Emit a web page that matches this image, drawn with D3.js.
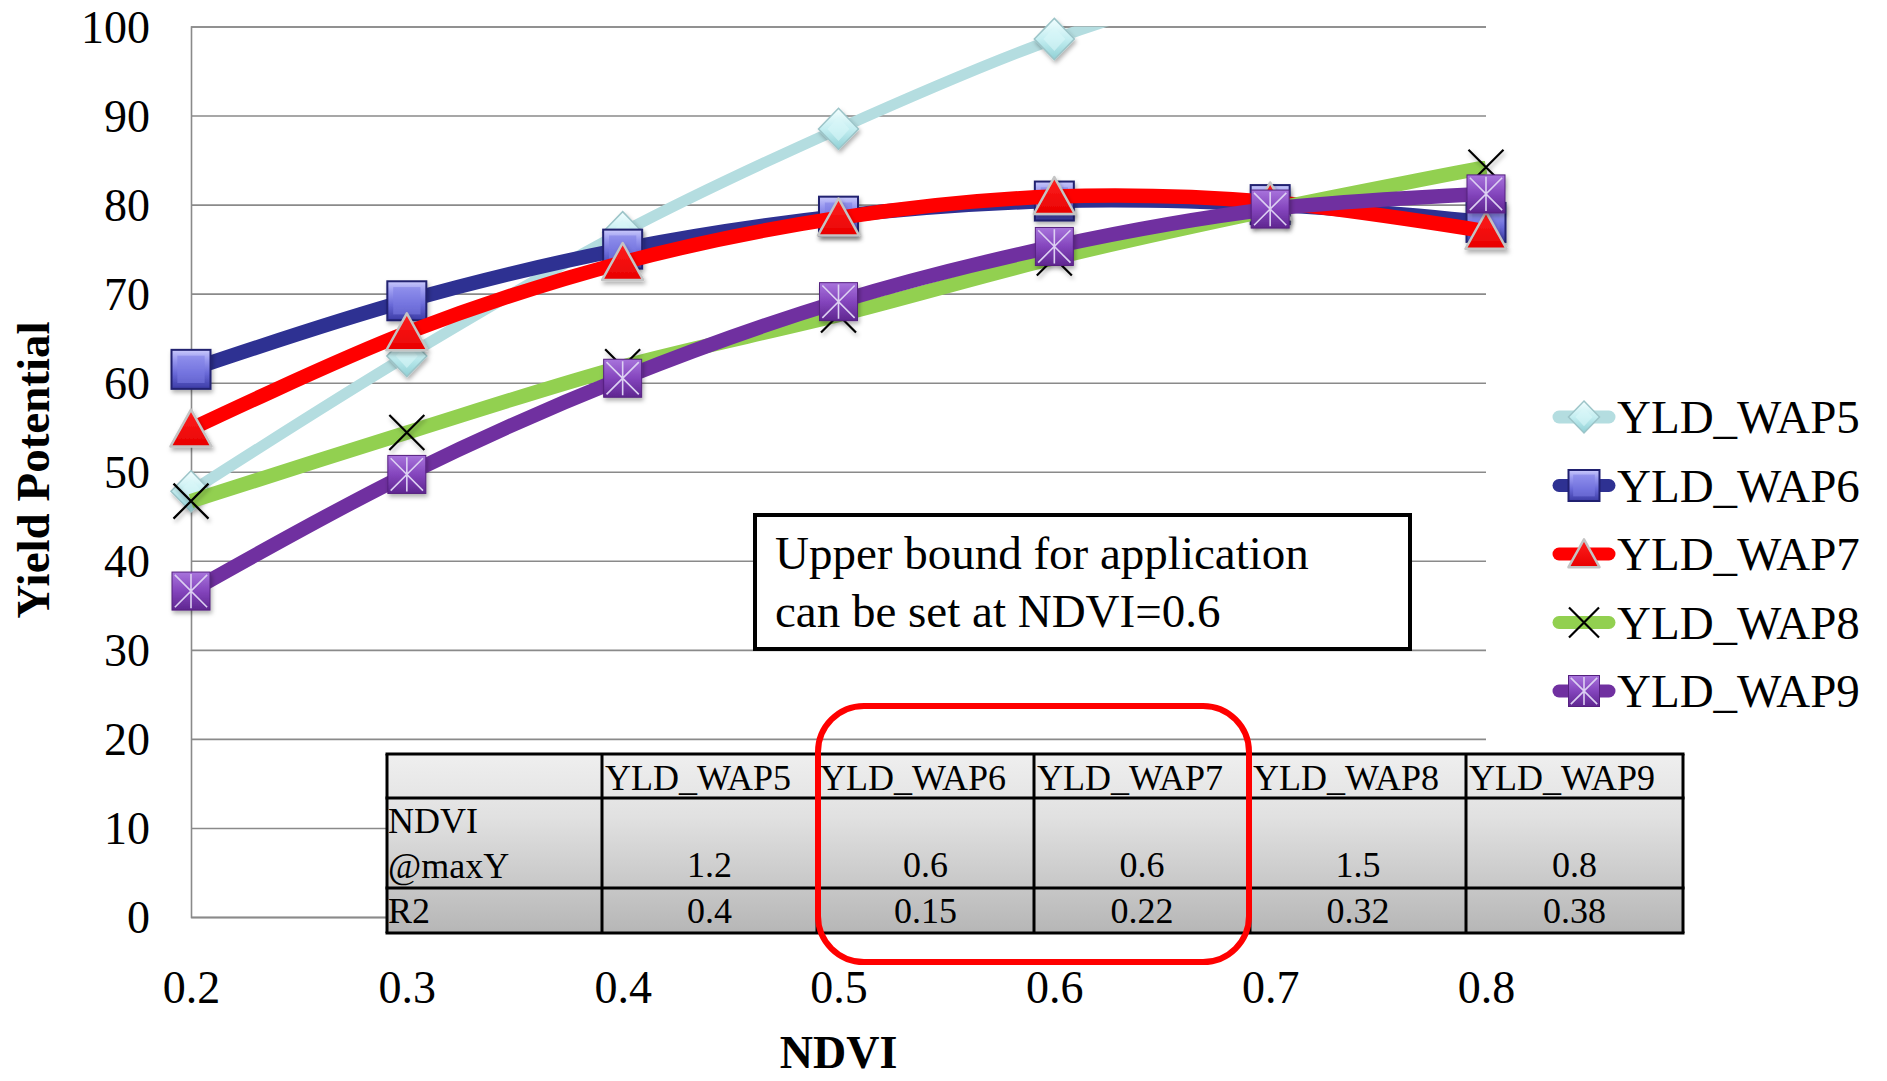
<!DOCTYPE html>
<html>
<head>
<meta charset="utf-8">
<script src="https://cdn.jsdelivr.net/npm/d3@7"></script>
<style>
  html, body { margin: 0; padding: 0; background: #fff; }
  svg { display: block; }
  svg text { font-family: "Liberation Serif", "Times New Roman", serif; fill: #000; }
</style>
</head>
<body>
<svg id="chart" width="1887" height="1081"></svg>
<script>
// NDVI categories on the x axis
const ndvi = [0.2, 0.3, 0.4, 0.5, 0.6, 0.7, 0.8];
const yTicks = [0, 10, 20, 30, 40, 50, 60, 70, 80, 90, 100];

// Yield potential for each WAP series
const seriesNames = ["YLD_WAP5", "YLD_WAP6", "YLD_WAP7", "YLD_WAP8", "YLD_WAP9"];
const yldWap5 = [47.8, 63.0, 76.9, 88.5, 98.6, 106.0, 112.0];
const yldWap6 = [61.5, 69.2, 75.0, 78.7, 80.4, 80.0, 78.0];
const yldWap7 = [54.8, 65.6, 73.5, 78.5, 80.9, 80.3, 77.0];
const yldWap8 = [46.7, 54.4, 61.8, 67.6, 74.0, 79.4, 84.2];
const yldWap9 = [36.6, 49.7, 60.5, 69.1, 75.3, 79.5, 81.2];

// Summary table
const tableRowLabels = ["NDVI\n@maxY", "R2"];
const ndviAtMaxY = ["1.2", "0.6", "0.6", "1.5", "0.8"];
const r2Values = ["0.4", "0.15", "0.22", "0.32", "0.38"];

const noteLines = ["Upper bound for application", "can be set at NDVI=0.6"];

const series = [
  { name: seriesNames[0], values: yldWap5, color: "#b4dde0", width: 11, marker: "diamond" },
  { name: seriesNames[1], values: yldWap6, color: "#2e3192", width: 14.5, marker: "square" },
  { name: seriesNames[2], values: yldWap7, color: "#ff0000", width: 14.5, marker: "triangle" },
  { name: seriesNames[3], values: yldWap8, color: "#92d050", width: 14.5, marker: "x" },
  { name: seriesNames[4], values: yldWap9, color: "#7030a0", width: 14.5, marker: "star" }
];

const serif = "'Liberation Serif', 'Times New Roman', serif";
const svg = d3.select("#chart");
const W = 1887, H = 1081;
svg.append("rect").attr("width", W).attr("height", H).attr("fill", "#fff");

const plot = { left: 191, right: 1486, top: 26.5, bottom: 917 };
const x = d3.scaleLinear().domain([0.2, 0.8]).range([plot.left, plot.right]);
const y = d3.scaleLinear().domain([0, 100]).range([plot.bottom, plot.top]);

// ---------- defs: gradients, shadow, clip ----------
const defs = svg.append("defs");
function vGrad(id, stops) {
  const g = defs.append("linearGradient").attr("id", id)
    .attr("x1", 0).attr("y1", 0).attr("x2", 0).attr("y2", 1);
  stops.forEach(([o, c]) => g.append("stop").attr("offset", o).attr("stop-color", c));
}
vGrad("gSquare", [[0, "#c9c9fb"], [0.25, "#9a9af0"], [0.6, "#6a6ad8"], [1, "#3c3ca6"]]);
vGrad("gStar", [[0, "#a874dc"], [0.5, "#8445bd"], [1, "#5f2690"]]);
vGrad("gDiamond", [[0, "#f2feff"], [0.5, "#c4eef1"], [1, "#8fd0d5"]]);
vGrad("gTri", [[0, "#ff2020"], [1, "#e80000"]]);
vGrad("gTable", [[0, "#efefef"], [0.35, "#e1e1e1"], [1, "#b6b6b6"]]);

const sh = defs.append("filter").attr("id", "shadow")
  .attr("x", "-50%").attr("y", "-50%").attr("width", "200%").attr("height", "200%");
sh.append("feDropShadow").attr("dx", 1.5).attr("dy", 3).attr("stdDeviation", 2)
  .attr("flood-color", "#000").attr("flood-opacity", 0.3);

defs.append("clipPath").attr("id", "plotClip")
  .append("rect").attr("x", 0).attr("y", plot.top).attr("width", W).attr("height", H - plot.top);

// ---------- axes and gridlines ----------
const yAxis = d3.axisLeft(y).tickValues(yTicks)
  .tickSize(-(plot.right - plot.left)).tickPadding(41).tickFormat(d3.format("d"));
const gy = svg.append("g").attr("transform", `translate(${plot.left},0)`).call(yAxis)
  .attr("font-family", serif).attr("font-size", 46);
gy.select(".domain").attr("stroke", "#8a8a8a").attr("stroke-width", 1.6);
gy.selectAll(".tick line").attr("stroke", "#8a8a8a").attr("stroke-width", 1.6);
gy.selectAll(".tick text").attr("dy", "0.34em");

const xAxis = d3.axisBottom(x).tickValues(ndvi).tickSize(0).tickFormat(d3.format(".1f"));
const gx = svg.append("g").attr("transform", `translate(0,${plot.bottom})`).call(xAxis)
  .attr("font-family", serif).attr("font-size", 46);
gx.select(".domain").attr("stroke", "#8a8a8a").attr("stroke-width", 1.6);
gx.selectAll(".tick text").attr("y", 86).attr("dy", 0);

// axis titles
svg.append("text").attr("x", (plot.left + plot.right) / 2).attr("y", 1068)
  .attr("text-anchor", "middle").attr("font-size", 46).attr("font-weight", "bold").text("NDVI");
svg.append("text").attr("transform", "translate(49,470) rotate(-90)")
  .attr("text-anchor", "middle").attr("font-size", 47).attr("font-weight", "bold").text("Yield Potential");

// ---------- markers ----------
function drawMarker(g, type, s) {
  const h = s / 2;
  if (type === "diamond") {
    g.append("path").attr("d", `M0,${-h * 1.03}L${h},0L0,${h * 1.03}L${-h},0Z`)
      .attr("fill", "url(#gDiamond)").attr("stroke", "#9cc4c8").attr("stroke-width", 1.5);
    g.append("path").attr("d", `M0,${-h * 0.6}L${h * 0.55},0L0,${h * 0.6}L${-h * 0.55},0Z`)
      .attr("fill", "#d9f7f9").attr("opacity", 0.6);
  } else if (type === "square") {
    g.append("rect").attr("x", -h).attr("y", -h).attr("width", s).attr("height", s)
      .attr("fill", "url(#gSquare)").attr("stroke", "#202070").attr("stroke-width", 2);
    g.append("rect").attr("x", -h * 0.7).attr("y", -h * 0.7).attr("width", s * 0.7).attr("height", s * 0.7)
      .attr("fill", "#7c7ce4").attr("opacity", 0.55);
  } else if (type === "triangle") {
    g.append("path").attr("d", `M0,${-h * 0.95}L${h},${h * 0.85}L${-h},${h * 0.85}Z`)
      .attr("fill", "url(#gTri)").attr("stroke", "#c4c4c4").attr("stroke-width", 2.5)
      .attr("stroke-linejoin", "round");
  } else if (type === "x") {
    g.append("path").attr("d", `M${-h},${-h}L${h},${h}M${h},${-h}L${-h},${h}`)
      .attr("stroke", "#000").attr("stroke-width", 2.2).attr("fill", "none");
  } else if (type === "star") {
    g.append("rect").attr("x", -h).attr("y", -h).attr("width", s).attr("height", s)
      .attr("fill", "url(#gStar)").attr("stroke", "#55207f").attr("stroke-width", 1);
    g.append("path").attr("d", `M${-h * 0.85},${-h * 0.85}L${h * 0.85},${h * 0.85}M${h * 0.85},${-h * 0.85}L${-h * 0.85},${h * 0.85}M0,${-h * 0.9}L0,${h * 0.9}`)
      .attr("stroke", "#dcd0f2").attr("stroke-width", 1.6).attr("fill", "none");
  }
}
const markerSize = { diamond: 40, square: 39, triangle: 41, x: 35, star: 38 };

// ---------- series lines and markers ----------
const line = d3.line()
  .x((d, i) => x(ndvi[i]))
  .y(d => y(d))
  .curve(d3.curveCardinal.tension(0));

series.forEach(s => {
  const g = svg.append("g");
  g.append("path").datum(s.values)
    .attr("d", line)
    .attr("clip-path", "url(#plotClip)")
    .attr("fill", "none").attr("stroke", s.color).attr("stroke-width", s.width)
    .attr("stroke-linejoin", "round");
  s.values.forEach((v, i) => {
    if (v > 100) return;
    const m = g.append("g").attr("transform", `translate(${x(ndvi[i])},${y(v)})`)
      .attr("filter", "url(#shadow)");
    drawMarker(m, s.marker, markerSize[s.marker]);
  });
});

// ---------- legend ----------
const legend = svg.append("g");
const legendY0 = 417, legendStep = 68.5;
series.forEach((s, i) => {
  const cy = legendY0 + i * legendStep;
  legend.append("line").attr("x1", 1559).attr("x2", 1609).attr("y1", cy).attr("y2", cy)
    .attr("stroke", s.color).attr("stroke-width", 13).attr("stroke-linecap", "round");
  const m = legend.append("g").attr("transform", `translate(1584,${cy})`);
  drawMarker(m, s.marker, s.marker === "x" ? 30 : 31);
  legend.append("text").attr("x", 1617).attr("y", cy + 16).attr("font-size", 47).text(s.name);
});

// ---------- note box ----------
const note = svg.append("g");
note.append("rect").attr("x", 755).attr("y", 515).attr("width", 655).attr("height", 134)
  .attr("fill", "#fff").attr("stroke", "#000").attr("stroke-width", 4);
noteLines.forEach((t, i) => {
  note.append("text").attr("x", 775).attr("y", 569 + i * 58).attr("font-size", 47).text(t);
});

// ---------- summary table ----------
const colEdges = [387, 602, 817, 1034, 1250, 1466, 1683];
const rowEdges = [754, 798, 888, 933];
const tbl = svg.append("g");
tbl.append("rect").attr("x", colEdges[0]).attr("y", rowEdges[0])
  .attr("width", colEdges[6] - colEdges[0]).attr("height", rowEdges[3] - rowEdges[0])
  .attr("fill", "url(#gTable)");
rowEdges.forEach(ry => tbl.append("line").attr("x1", colEdges[0] - 1.5).attr("x2", colEdges[6] + 1.5)
  .attr("y1", ry).attr("y2", ry).attr("stroke", "#000").attr("stroke-width", 3));
colEdges.forEach(cx => tbl.append("line").attr("x1", cx).attr("x2", cx)
  .attr("y1", rowEdges[0]).attr("y2", rowEdges[3]).attr("stroke", "#000").attr("stroke-width", 3));

const tFont = 36;
seriesNames.forEach((n, i) => {
  tbl.append("text").attr("x", colEdges[i + 1] + 3).attr("y", 790).attr("font-size", tFont).text(n);
});
tableRowLabels[0].split("\n").forEach((t, i) => {
  tbl.append("text").attr("x", colEdges[0] + 1).attr("y", 833 + i * 45).attr("font-size", tFont).text(t);
});
tbl.append("text").attr("x", colEdges[0] + 1).attr("y", 923).attr("font-size", tFont).text(tableRowLabels[1]);
ndviAtMaxY.forEach((v, i) => {
  tbl.append("text").attr("x", (colEdges[i + 1] + colEdges[i + 2]) / 2).attr("y", 877)
    .attr("text-anchor", "middle").attr("font-size", tFont).text(v);
});
r2Values.forEach((v, i) => {
  tbl.append("text").attr("x", (colEdges[i + 1] + colEdges[i + 2]) / 2).attr("y", 923)
    .attr("text-anchor", "middle").attr("font-size", tFont).text(v);
});

// highlight around the WAP6 / WAP7 columns
svg.append("rect").attr("x", 818).attr("y", 706).attr("width", 431).attr("height", 256)
  .attr("rx", 46).attr("ry", 46)
  .attr("fill", "none").attr("stroke", "#ff0000").attr("stroke-width", 6);
</script>
</body>
</html>
